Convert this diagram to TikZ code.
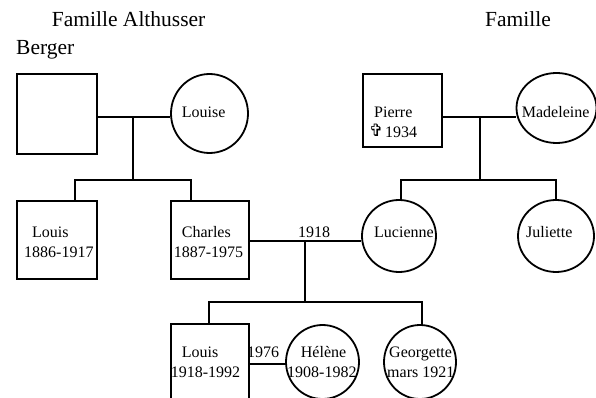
\documentclass[tikz,border=0pt]{standalone}
\usepackage{fontspec}
\setmainfont{Liberation Serif}
\newfontfamily\symfont{DejaVu Sans}
\usetikzlibrary{shapes.geometric}
\begin{document}
\begin{tikzpicture}[x=1pt,y=-1pt,
  person/.style={draw, line width=1.8pt, inner sep=0pt},
  male/.style={person, rectangle},
  female/.style={person, ellipse},
  link/.style={line width=1.8pt},
  txt/.style={anchor=base west, inner sep=0pt, font=\fontsize{16}{19}\selectfont},
  ttl/.style={anchor=base west, inner sep=0pt, font=\fontsize{21.5}{26}\selectfont}]
\useasboundingbox (0,0) rectangle (596,398);
\clip (0,0) rectangle (596,398);

% titles
\node[ttl] (t1) at (51.7,26.7) {Famille Althusser};
\node[ttl] (t2) at (16,55) {Berger};
\node[ttl] (t3) at (485,26.7) {Famille};

% persons
\node[male, minimum width=80pt, minimum height=80pt] (g1) at (57,114) {};
\node[female, minimum width=77pt, minimum height=79pt] (louise) at (209.5,113.5) {};
\node[male, minimum width=79pt, minimum height=73pt] (pierre) at (402.5,110.5) {};
\node[female, minimum width=80pt, minimum height=70pt] (madeleine) at (556.5,108) {};
\node[male, minimum width=80pt, minimum height=78pt] (louis1) at (57,240) {};
\node[male, minimum width=78pt, minimum height=78pt] (charles) at (210,240) {};
\node[female, minimum width=74pt, minimum height=72pt] (lucienne) at (399,236) {};
\node[female, minimum width=76pt, minimum height=72pt] (juliette) at (556,236) {};
\node[male, minimum width=78pt, minimum height=80pt] (louis2) at (210,364) {};
\node[female, minimum width=73pt, minimum height=74pt] (helene) at (322.5,362) {};
\node[female, minimum width=72pt, minimum height=74pt] (georgette) at (420,362) {};

% texts
\node[txt] (lLouise) at (181.7,117.3) {Louise};
\node[txt] (lPierre) at (374,117.3) {Pierre};
\node[anchor=base west, inner sep=0pt, font=\symfont\fontsize{17}{19}\selectfont] (lCross) at (369,137) {✞};
\node[txt] (lPierreD) at (385,137.3) {1934};
\node[txt] (lMad) at (521.7,117.3) {Madeleine};
\node[txt] (lLouis1) at (32,237.3) {Louis};
\node[txt] (lLouis1D) at (24,257.3) {1886-1917};
\node[txt] (lCharles) at (181.7,237.3) {Charles};
\node[txt] (lCharlesD) at (173.7,257.3) {1887-1975};
\node[txt] (l1918) at (298,237.3) {1918};
\node[txt] (lLucienne) at (374,237.3) {Lucienne};
\node[txt] (lJuliette) at (526,237.3) {Juliette};
\node[txt] (lLouis2) at (181.7,357.3) {Louis};
\node[txt] (lLouis2D) at (170.7,377.3) {1918-1992};
\node[txt] (l1976) at (247,357.3) {1976};
\node[txt] (lHelene) at (300.7,357.3) {Hélène};
\node[txt] (lHeleneD) at (287,377.3) {1908-1982};
\node[txt] (lGeorgette) at (389,357.3) {Georgette};
\node[txt] (lGeorgetteD) at (387,377.3) {mars 1921};

% junction coordinates
\coordinate (m1) at (133,116.7);
\coordinate (d1) at (133,180);
\coordinate (c1a) at (75,180);
\coordinate (c1b) at (191,180);
\coordinate (m2) at (480,117);
\coordinate (d2) at (480,180);
\coordinate (c2a) at (401,180);
\coordinate (c2b) at (556,180);
\coordinate (m3) at (305,240.7);
\coordinate (d3) at (305,302);
\coordinate (c3a) at (209,302);
\coordinate (c3b) at (422,302);
\coordinate (m4) at (268,364);

% Althusser
\draw[link] (g1.east |- m1) -- (m1) -- (louise.west |- m1);
\draw[link] (m1) -- (d1);
\draw[link] (c1a |- louis1.north) -- (c1a) -- (c1b) -- (c1b |- charles.north);
% Berger
\draw[link] (pierre.east |- m2) -- (m2) -- (madeleine.west |- m2);
\draw[link] (m2) -- (d2);
\draw[link] (c2a |- lucienne.north) -- (c2a) -- (c2b) -- (c2b |- juliette.north);
% Charles + Lucienne
\draw[link] (charles.east |- m3) -- (m3) -- (lucienne.west |- m3);
\draw[link] (m3) -- (d3);
\draw[link] (c3a |- louis2.north) -- (c3a) -- (c3b) -- (c3b |- georgette.north);
% Louis + Helene
\draw[link] (louis2.east |- m4) -- (helene.west |- m4);
\end{tikzpicture}
\end{document}
